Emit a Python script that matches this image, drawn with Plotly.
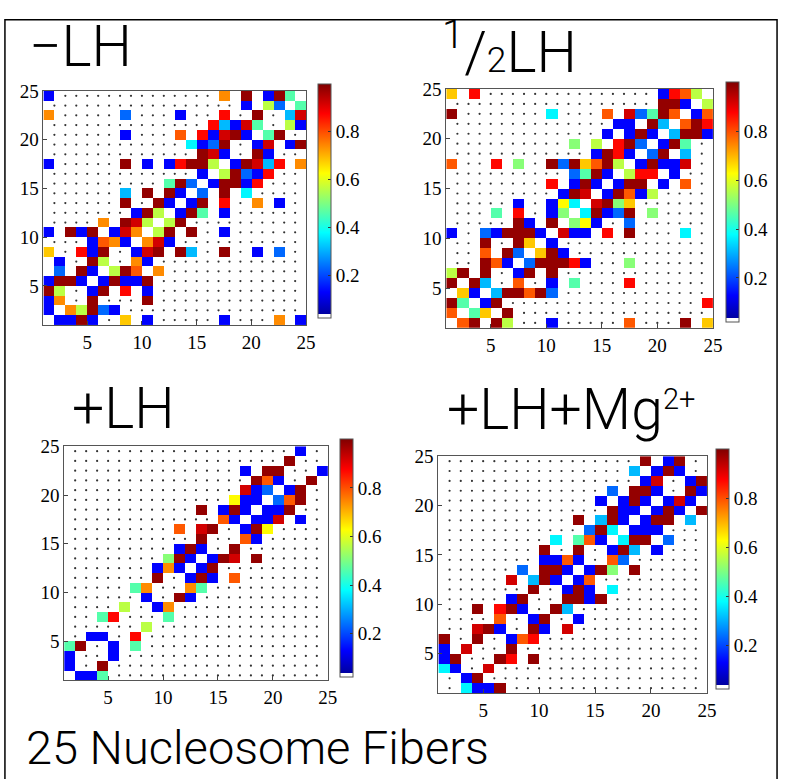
import plotly.graph_objects as go

W, H = 791, 779
N = 24  # faces per side; the axes run over the 25 grid vertices 1..25

# Contact maps: {row: [(col, value), ...]} with row/col = lower-left vertex of each face
neg_lh = {
    24: [(1, .13), (17, .74), (19, .98), (21, .13), (22, .98), (23, .46)],
    23: [(19, .13), (21, .56), (22, .23), (24, .46)],
    22: [(1, .74), (8, .23), (13, .13), (17, .87), (20, .98), (23, .31), (24, .92)],
    21: [(16, .87), (17, .31), (18, .13), (19, .92), (20, .46), (23, .56), (24, .13)],
    20: [(8, .13), (13, .79), (15, .87), (16, .13), (17, .92), (18, .98), (19, .13), (21, .46), (22, .98)],
    19: [(14, .37), (15, .13), (16, .23), (17, .98), (20, .13), (21, .92), (23, .13), (24, .98)],
    18: [(15, .98), (16, .92), (17, .13), (20, .98), (21, .13)],
    17: [(1, .13), (8, .98), (10, .13), (12, .13), (13, .87), (14, .98), (15, .98), (16, .56),
         (18, .13), (19, .98), (20, .92), (21, .31), (22, .87), (24, .74)],
    16: [(15, .13), (17, .56), (18, .98), (19, .23), (20, .13), (21, .87)],
    15: [(12, .46), (13, .98), (14, .23), (16, .13), (17, .98), (18, .98), (19, .13), (20, .87)],
    14: [(8, .31), (10, .98), (12, .98), (13, .13), (15, .23), (17, .98), (19, .37)],
    13: [(8, .98), (11, .98), (12, .13), (14, .13), (15, .98), (17, .87), (20, .74), (22, .13)],
    12: [(9, .13), (10, .98), (11, .56), (13, .13), (14, .98), (15, .46), (17, .13)],
    11: [(6, .74), (8, .98), (9, .92), (10, .56), (12, .56), (13, .98)],
    10: [(1, .13), (3, .98), (4, .13), (5, .98), (7, .13), (8, .92), (9, .74), (11, .56),
         (12, .98), (14, .98), (17, .13)],
    9: [(5, .13), (6, .79), (7, .74), (8, .13), (10, .74), (11, .92), (12, .13)],
    8: [(1, .68), (4, .87), (5, .13), (6, .98), (9, .13), (10, .92), (11, .98), (13, .98),
        (14, .31), (17, .98), (20, .13), (22, .23)],
    7: [(2, .13), (5, .98), (6, .56), (9, .74), (10, .13)],
    6: [(2, .23), (4, .98), (5, .13), (7, .56), (8, .98), (9, .79), (11, .74)],
    5: [(1, .13), (2, .98), (3, .98), (4, .13), (6, .13), (7, .98), (8, .13), (9, .13), (10, .98)],
    4: [(1, .98), (2, .56), (5, .13), (6, .98), (8, .87), (10, .13)],
    3: [(1, .13), (2, .74), (5, .98), (10, .98)],
    2: [(1, .13), (3, .74), (4, .56), (5, .98), (6, .23), (7, .13)],
    1: [(2, .13), (3, .13), (4, .98), (5, .13), (8, .68), (10, .13), (17, .13), (22, .74), (24, .13)],
}

half_lh = {
    24: [(1, .68), (3, .87), (20, .13), (21, .87), (22, .79), (23, .56)],
    23: [(20, .98), (21, .98), (22, .13), (24, .56)],
    22: [(1, .98), (10, .37), (15, .79), (17, .92), (18, .23), (19, .46), (20, .98), (21, .79),
         (23, .13), (24, .79)],
    21: [(16, .13), (17, .13), (19, .98), (20, .31), (22, .79), (23, .98), (24, .87)],
    20: [(15, .13), (17, .13), (18, .98), (19, .13), (21, .31), (22, .98), (23, .98), (24, .13)],
    19: [(12, .51), (14, .56), (16, .87), (17, .98), (18, .23), (20, .13), (21, .98), (22, .46)],
    18: [(14, .13), (15, .98), (16, .87), (17, .13), (19, .23), (20, .98), (22, .31)],
    17: [(1, .79), (5, .87), (7, .51), (10, .98), (11, .23), (12, .98), (13, .68), (14, .79),
         (15, .98), (16, .56), (18, .13), (19, .98), (20, .13), (21, .13), (22, .92)],
    16: [(12, .23), (13, .46), (14, .98), (15, .13), (17, .56), (18, .87), (19, .87), (21, .13)],
    15: [(10, .87), (12, .13), (13, .98), (14, .13), (16, .13), (17, .98), (18, .98), (20, .13), (22, .79)],
    14: [(11, .13), (12, .98), (13, .92), (15, .13), (16, .98), (17, .79), (18, .13), (19, .56)],
    13: [(7, .13), (10, .13), (11, .63), (12, .37), (14, .92), (15, .98), (16, .51), (17, .68)],
    12: [(5, .46), (7, .87), (10, .13), (11, .51), (13, .37), (14, .98), (15, .13), (16, .23),
         (17, .98), (19, .51)],
    11: [(7, .98), (8, .13), (10, .98), (12, .51), (13, .63), (14, .13), (17, .23)],
    10: [(1, .13), (4, .23), (5, .13), (6, .98), (7, .98), (8, .98), (9, .13), (11, .92),
         (12, .13), (13, .13), (15, .87), (17, .98), (22, .37)],
    9: [(4, .98), (7, .98), (8, .68), (10, .13)],
    8: [(4, .79), (6, .98), (7, .23), (9, .68), (10, .98), (11, .13)],
    7: [(4, .98), (5, .79), (6, .13), (8, .23), (9, .98), (10, .98), (11, .98), (12, .87),
        (13, .13), (17, .51)],
    6: [(1, .56), (2, .98), (4, .98), (7, .13), (8, .98), (10, .98)],
    5: [(1, .98), (3, .98), (4, .31), (7, .79), (10, .13), (12, .46), (17, .87)],
    4: [(2, .68), (3, .13), (5, .31), (6, .98), (7, .98), (8, .79), (9, .98), (10, .23)],
    3: [(1, .98), (2, .46), (4, .13), (5, .98), (24, .87)],
    2: [(1, .79), (3, .46), (4, .68), (6, .98)],
    1: [(2, .79), (3, .98), (5, .98), (6, .56), (10, .13), (17, .79), (22, .98), (24, .68)],
}

plus_lh = {
    24: [(22, .13)],
    23: [(21, .98)],
    22: [(17, .13), (19, .98), (20, .98), (24, .13)],
    21: [(18, .98), (19, .79), (20, .13), (23, .98)],
    20: [(17, .92), (18, .13), (19, .23), (21, .13), (22, .98)],
    19: [(16, .63), (17, .13), (18, .13), (20, .23), (21, .79), (22, .98)],
    18: [(13, .98), (15, .13), (16, .98), (17, .13), (19, .13), (20, .13), (21, .98)],
    17: [(15, .79), (16, .13), (18, .13), (19, .13), (20, .92), (22, .13)],
    16: [(11, .79), (13, .92), (14, .98), (17, .13), (18, .98), (19, .63)],
    15: [(13, .98), (17, .79), (18, .13)],
    14: [(11, .13), (12, .98), (13, .13), (16, .98)],
    13: [(10, .51), (11, .98), (12, .13), (14, .13), (15, .98), (16, .92), (18, .98)],
    12: [(9, .13), (10, .74), (11, .13), (13, .13), (14, .98)],
    11: [(9, .98), (12, .13), (13, .98), (14, .13), (16, .79)],
    10: [(7, .46), (8, .74), (12, .74), (13, .46)],
    9: [(8, .13), (11, .98), (12, .13)],
    8: [(6, .56), (9, .13), (10, .74)],
    7: [(4, .46), (5, .87), (10, .46)],
    6: [(8, .56)],
    5: [(3, .13), (4, .13), (7, .87)],
    4: [(1, .46), (2, .98), (5, .13), (7, .46)],
    3: [(1, .13), (5, .13)],
    2: [(1, .13), (4, .98)],
    1: [(2, .13), (3, .13), (4, .46)],
}

plus_lh_mg = {
    24: [(19, .98), (21, .13), (22, .98)],
    23: [(18, .31), (20, .13), (21, .98), (22, .13)],
    22: [(19, .13), (20, .92), (23, .13), (24, .98)],
    21: [(16, .23), (18, .98), (19, .98), (20, .13), (23, .98), (24, .13)],
    20: [(15, .13), (17, .13), (18, .98), (19, .13), (21, .13), (22, .92), (23, .13)],
    19: [(16, .98), (17, .13), (18, .13), (20, .13), (21, .98), (22, .13), (24, .98)],
    18: [(13, .98), (15, .31), (16, .98), (17, .13), (19, .13), (20, .98), (21, .98), (23, .31)],
    17: [(14, .23), (15, .98), (16, .37), (18, .13), (19, .13), (20, .13)],
    16: [(11, .37), (13, .46), (14, .79), (15, .13), (17, .37), (18, .98), (19, .98), (21, .23)],
    15: [(10, .98), (13, .98), (16, .13), (17, .98), (18, .31), (20, .13)],
    14: [(10, .13), (11, .13), (12, .79), (13, .13), (16, .79), (17, .23)],
    13: [(8, .23), (10, .98), (11, .98), (12, .13), (14, .13), (15, .98), (16, .51), (18, .98)],
    12: [(7, .92), (9, .31), (10, .98), (11, .13), (13, .13), (14, .79)],
    11: [(9, .98), (12, .13), (13, .98), (14, .13), (16, .37)],
    10: [(7, .13), (8, .98), (12, .98), (13, .98), (14, .13), (15, .98)],
    9: [(4, .98), (6, .87), (7, .98), (8, .13), (11, .98), (12, .31)],
    8: [(6, .79), (9, .13), (10, .98), (13, .13)],
    7: [(4, .92), (5, .98), (6, .13), (9, .98), (10, .13), (12, .92)],
    6: [(1, .98), (4, .98), (7, .13), (8, .79), (9, .87)],
    5: [(1, .13), (3, .92), (7, .98)],
    4: [(1, .13), (2, .98), (6, .98), (7, .87), (9, .98)],
    3: [(1, .37), (2, .13), (5, .92)],
    2: [(3, .13), (4, .98)],
    1: [(3, .37), (4, .13), (5, .13), (6, .98)],
}

axis_ticks = [5, 10, 15, 20, 25]
cbar_ticks = [0.2, 0.4, 0.6, 0.8]
z_low, z_high = 0.02, 1.0

titles = ["\u2212LH", "<sup>1</sup>/<span style='font-size:62%'>2</span>LH", "+LH", "+LH+Mg"]
mg_charge = "2+"
caption = "25 Nucleosome Fibers"

# jet colour map whose lowest slot is white
jet_white = [
    [0.0, "rgb(255,255,255)"], [0.0158, "rgb(255,255,255)"],
    [0.0159, "rgb(0,0,160)"], [0.111, "rgb(0,0,255)"],
    [0.365, "rgb(0,255,255)"], [0.619, "rgb(255,255,0)"],
    [0.873, "rgb(255,0,0)"], [1.0, "rgb(128,0,0)"],
]

# panel boxes in pixels: (left, top, right, bottom) and colour bar (left, top, bottom)
panels = [
    dict(data=neg_lh, box=(44, 82, 310, 319), cb=(322, 82, 316)),
    dict(data=half_lh, box=(452, 80, 722, 322), cb=(735, 80, 320)),
    dict(data=plus_lh, box=(65, 442, 332, 679), cb=(344, 442, 680)),
    dict(data=plus_lh_mg, box=(444, 452, 716, 692), cb=(725, 452, 692)),
]


def px(x):
    return x / W


def py(y):
    return 1 - y / H


def to_grid(cells):
    z = [[None] * N for _ in range(N)]
    for r, row in cells.items():
        for c, v in row:
            z[r - 1][c - 1] = v
    return z


centres = [i + 0.5 for i in range(1, N + 1)]
serif = "Liberation Serif, Times New Roman, serif"
sans = "Roboto, Lato, Liberation Sans, sans-serif"

fig = go.Figure()
layout = {}
for k, p in enumerate(panels, start=1):
    l, t, r, b = p["box"]
    cl, ct, cbm = p["cb"]
    xa, ya = f"x{k if k > 1 else ''}", f"y{k if k > 1 else ''}"
    z = to_grid(p["data"])

    # dotted background grid on the empty faces
    dx, dy = [], []
    for gx in range(2, N + 1):
        for row in range(1, N + 1):
            left_c = z[row - 1][gx - 2]
            right_c = z[row - 1][gx - 1] if gx - 1 < N else None
            if left_c is None and right_c is None:
                dx.append(gx)
                dy.append(row + 0.5)
    fig.add_trace(go.Scatter(
        x=dx, y=dy, mode="markers", xaxis=xa, yaxis=ya,
        marker=dict(size=2.2, color="#333"), hoverinfo="skip", showlegend=False))

    fig.add_trace(go.Heatmap(
        z=z, x=centres, y=centres, xaxis=xa, yaxis=ya,
        colorscale=jet_white, zmin=z_low, zmax=z_high, hoverongaps=False,
        colorbar=dict(
            x=px(cl), xanchor="left", xref="paper",
            y=py(ct - 7), yanchor="top", yref="paper",
            len=cbm - ct, lenmode="pixels", thickness=13, thicknessmode="pixels",
            xpad=0, ypad=0, outlinewidth=1, outlinecolor="#555",
            tickvals=cbar_ticks, ticktext=[f"{v:.1f}" for v in cbar_ticks],
            ticks="inside", ticklen=3, tickcolor="#333",
            tickfont=dict(family=serif, size=19, color="black"),
        ),
    ))

    axis_common = dict(
        range=[1, 25], tickvals=axis_ticks, ticks="inside", ticklen=4,
        tickcolor="#444", showline=True, mirror=True, linecolor="#555",
        linewidth=1, showgrid=False, zeroline=False,
        tickfont=dict(family=serif, size=19, color="black"),
    )
    layout[f"xaxis{k if k > 1 else ''}"] = dict(
        axis_common, domain=[px(l), px(r)], anchor=ya)
    layout[f"yaxis{k if k > 1 else ''}"] = dict(
        axis_common, domain=[py(b), py(t)], anchor=xa)

title_pos = [(27, 37), (446, 39), (71, 404), (451, 405)]
annotations = []
for text, (tx, ty) in zip(titles, title_pos):
    annotations.append(dict(
        text=text, x=px(tx), y=py(ty), xref="paper", yref="paper",
        xanchor="left", yanchor="middle", showarrow=False,
        font=dict(family=sans, size=57, color="black", weight=300)))
annotations.append(dict(
    text=mg_charge, x=px(669), y=py(394), xref="paper", yref="paper",
    xanchor="left", yanchor="middle", showarrow=False,
    font=dict(family=sans, size=29, color="black", weight=300)))
annotations.append(dict(
    text=caption, x=px(24), y=py(747), xref="paper", yref="paper",
    xanchor="left", yanchor="middle", showarrow=False,
    font=dict(family=sans, size=47, color="black", weight=300)))

fig.update_layout(
    width=W, height=H, margin=dict(l=0, r=0, t=0, b=0),
    paper_bgcolor="white", plot_bgcolor="white",
    annotations=annotations,
    shapes=[dict(type="rect", xref="paper", yref="paper",
                 x0=px(5), x1=px(787), y0=-0.05, y1=py(10),
                 line=dict(color="black", width=1.5))],
    **layout,
)

fig.write_html("out.html")
